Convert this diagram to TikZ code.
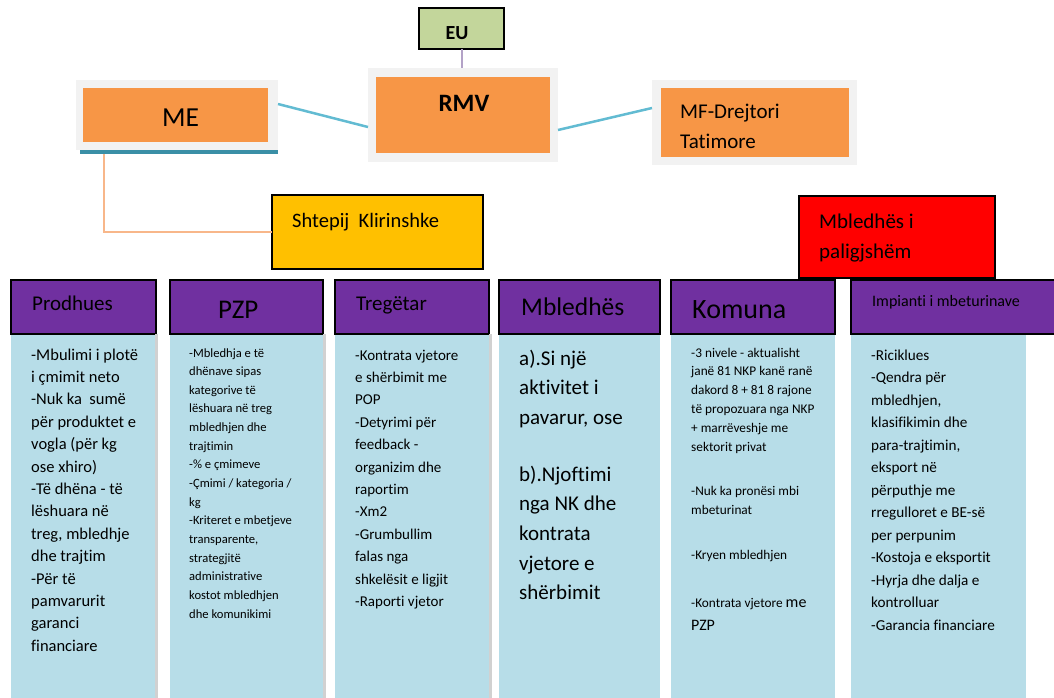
\documentclass[tikz,border=0pt]{standalone}
\usepackage{fontspec}
\setmainfont{Carlito}[Ligatures=NoCommon]
\definecolor{boxorange}{HTML}{F79646}
\definecolor{framegrey}{HTML}{F2F2F2}
\definecolor{eugreen}{HTML}{C3D69B}
\definecolor{skyellow}{HTML}{FFC000}
\definecolor{headpurple}{HTML}{7030A0}
\definecolor{bodyblue}{HTML}{B7DDE8}
\definecolor{lineteal}{HTML}{62BBD2}
\definecolor{lineorange}{HTML}{F8B78A}
\definecolor{linepurple}{HTML}{B3A2C7}
\definecolor{shadowteal}{HTML}{3A8FA6}
\newcommand{\coltext}[3]{\parbox[t]{170pt}{\raggedright\fontsize{#1}{#2}\selectfont #3}}
\begin{document}
\begin{tikzpicture}[x=1pt, y=-1pt,
    frame/.style={fill=framegrey, inner sep=0pt, outer sep=0pt},
    orangebox/.style={fill=boxorange, inner sep=0pt, outer sep=0pt},
    blackbox/.style={draw=black, line width=1.4pt, inner sep=0pt, outer sep=0pt},
    headbox/.style={draw=black, line width=1.2pt, fill=headpurple, inner sep=0pt, outer sep=0pt, minimum height=54pt},
    colbody/.style={fill=bodyblue, inner sep=0pt, outer sep=0pt, minimum height=366pt},
    link/.style={line width=2.5pt},
    txt/.style={anchor=base west, inner sep=0pt}]
    \fill[white] (0,0) rectangle (1054,697);
    \useasboundingbox (0,0) rectangle (1054,697);
    % top row
    \node[blackbox, fill=eugreen, minimum width=85pt, minimum height=41pt] (eu) at (461.5,28.5) {};
    \node[frame, minimum width=190pt, minimum height=94pt] (rmvfr) at (463,115) {};
    \node[orangebox, minimum width=174pt, minimum height=76pt] (rmv) at (463,115) {};
    \node[fill=shadowteal, inner sep=0pt, minimum width=198pt, minimum height=70pt] (meshd) at (179,119) {};
    \node[frame, minimum width=202pt, minimum height=70pt] (mefr) at (177,115) {};
    \node[orangebox, minimum width=185pt, minimum height=54pt] (me) at (175.5,115) {};
    \node[frame, minimum width=205pt, minimum height=85pt] (mffr) at (754.5,122.5) {};
    \node[orangebox, minimum width=188pt, minimum height=69pt] (mf) at (755,122.5) {};
    \node[blackbox, fill=skyellow, minimum width=211pt, minimum height=74pt] (sk) at (377.5,232) {};
    \node[blackbox, fill=red, minimum width=196pt, minimum height=82pt] (ilg) at (897,237) {};
    \draw[link, linepurple, line width=2pt] (eu.south) -- (eu.south |- rmvfr.north);
    \draw[link, lineteal] ([yshift=11pt]mefr.east) -- ([yshift=-12pt]rmvfr.west);
    \draw[link, lineteal] ([yshift=-15pt]rmvfr.east) -- ([yshift=14.5pt]mffr.west);
    \draw[link, lineorange, line width=2pt] ([xshift=24pt]meshd.south west) |- (sk.west);
    \node[txt, anchor=base, font=\bfseries\fontsize{20}{24}\selectfont] (eutxt) at (457,39) {EU};
    \node[txt, anchor=base, font=\bfseries\fontsize{25}{30}\selectfont] (rmvtxt) at (464,111) {RMV};
    \node[txt, anchor=base, font=\fontsize{27.5}{33}\selectfont] (metxt) at (180.5,126) {ME};
    \node[txt] (mftxt) at (680,118) {\coltext{21}{30}{MF-Drejtori\\ Tatimore}};
    \node[txt, font=\fontsize{20.5}{25}\selectfont] (sktxt) at (292,227) {Shtepij\ \ Klirinshke};
    \node[txt] (ilgtxt) at (819,228) {\coltext{21}{30}{Mbledhës i\\ paligjshëm}};
    % columns
    \foreach \i/\xl/\xr/\br in {1/11/156/155, 2/170/323/323, 3/335/489/489, 4/499/660/660, 5/671/835/835, 6/851/1058/1026}{
      \node[colbody, minimum width={(\br-\xl)*1pt}] (b\i) at ({(\xl+\br)/2},517) {};
      \node[headbox, minimum width={(\xr-\xl)*1pt}] (h\i) at ({(\xl+\xr)/2},307) {};
    }
    \foreach \i in {1,2,3}{
      \fill[black!18] (b\i.north east) rectangle ([xshift=2.5pt]b\i.south east);
    }
    \node[txt, font=\fontsize{21}{25}\selectfont] (t1) at (32,310) {Prodhues};
    \node[txt, font=\fontsize{27}{32}\selectfont] (t2) at (218,318) {PZP};
    \node[txt, font=\fontsize{21}{25}\selectfont] (t3) at (356,310) {Tregëtar};
    \node[txt, font=\fontsize{25.5}{30}\selectfont] (t4) at (521,315) {Mbledhës};
    \node[txt, font=\fontsize{28}{33}\selectfont] (t5) at (692,318) {Komuna};
    \node[txt, font=\fontsize{16}{19}\selectfont] (t6) at (872,306) {Impianti i mbeturinave};
    \node[txt] (x1) at (31,360) {\coltext{16.5}{22.4}{-Mbulimi i plotë\\ i çmimit neto\\ -Nuk ka\ \ sumë\\ për produktet e\\ vogla (për kg\\ ose xhiro)\\ -Të dhëna - të\\ lëshuara në\\ treg, mbledhje\\ dhe trajtim\\ -Për të\\ pamvarurit\\ garanci\\ financiare}};
    \node[txt] (x2) at (189,357) {\coltext{12.6}{18.65}{-Mbledhja e të\\ dhënave sipas\\ kategorive të\\ lëshuara në treg\\ mbledhjen dhe\\ trajtimin\\ -\% e çmimeve\\ -Çmimi / kategoria /\\ kg\\ -Kriteret e mbetjeve\\ transparente,\\ strategjitë\\ administrative\\ kostot mbledhjen\\ dhe komunikimi}};
    \node[txt] (x3) at (355,360) {\coltext{15}{22.4}{-Kontrata vjetore\\ e shërbimit me\\ POP\\ -Detyrimi për\\ feedback -\\ organizim dhe\\ raportim\\ -Xm2\\ -Grumbullim\\ falas nga\\ shkelësit e ligjit\\ -Raporti vjetor}};
    \node[txt] (x4) at (519,365) {\coltext{21}{29.7}{a).Si një\\ aktivitet i\\ pavarur, ose\\[27pt] b).Njoftimi\\ nga NK dhe\\ kontrata\\ vjetore e\\ shërbimit}};
    \node[txt] (x5) at (691,357) {\coltext{13.3}{18.8}{-3 nivele - aktualisht\\ janë 81 NKP kanë ranë\\ dakord 8 + 81 8 rajone\\ të propozuara nga NKP\\ + marrëveshje me\\ sektorit privat\\[26pt] -Nuk ka pronësi mbi\\ mbeturinat\\[26pt] -Kryen mbledhjen\\[29pt] -Kontrata vjetore {\fontsize{16}{18.8}\selectfont me}\\[4pt] {\fontsize{16}{18.8}\selectfont PZP}}};
    \node[txt] (x6) at (871,360) {\coltext{15.2}{22.5}{-Riciklues\\ -Qendra për\\ mbledhjen,\\ klasifikimin dhe\\ para-trajtimin,\\ eksport në\\ përputhje me\\ rregulloret e BE-së\\ per perpunim\\ -Kostoja e eksportit\\ -Hyrja dhe dalja e\\ kontrolluar\\ -Garancia financiare}};
\end{tikzpicture}
\end{document}
